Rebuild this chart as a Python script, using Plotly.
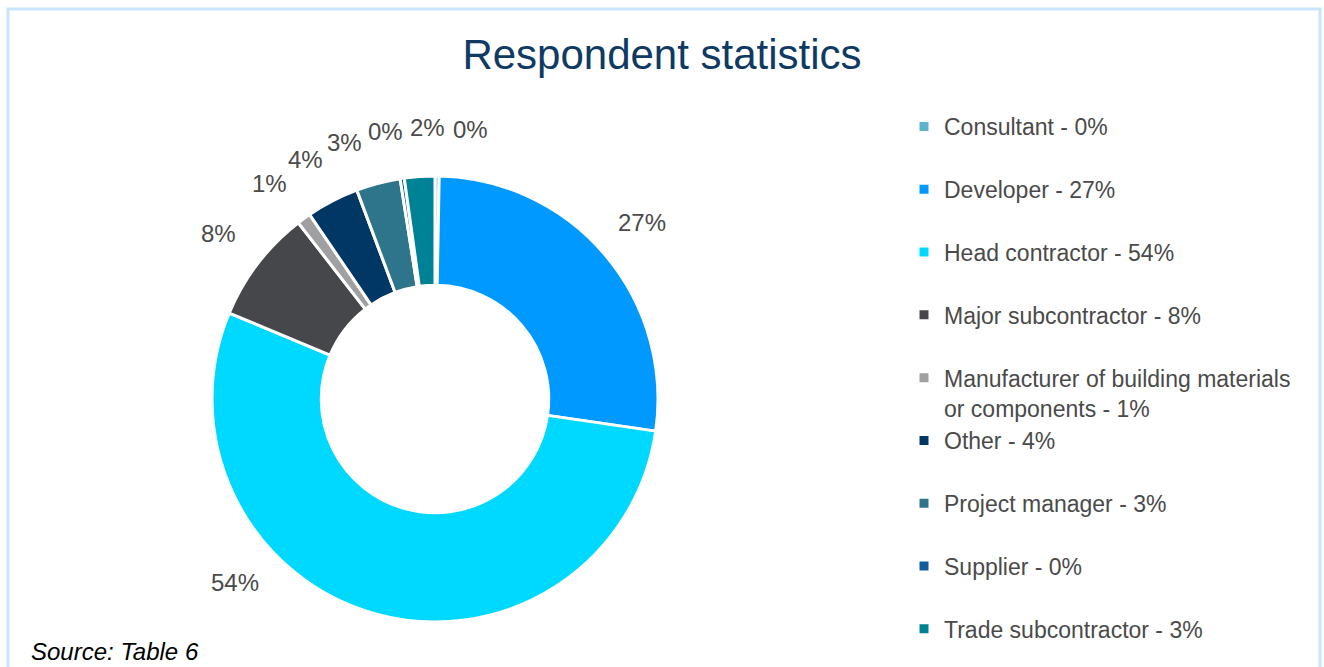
"""Respondent statistics donut chart."""

import math

import plotly.graph_objects as go

# --- data -------------------------------------------------------------
categories = [
    "Consultant",
    "Developer",
    "Head contractor",
    "Major subcontractor",
    "Manufacturer of building materials<br>or components",
    "Other",
    "Project manager",
    "Supplier",
    "Trade subcontractor",
]
shares = [0.3, 27.0, 54.0, 8.2, 1.0, 3.8, 3.2, 0.3, 2.2]
legend_pct = ["0%", "27%", "54%", "8%", "1%", "4%", "3%", "0%", "3%"]

slice_colors = [
    "#5FB3CC",
    "#0099FF",
    "#00D9FF",
    "#46474B",
    "#A0A0A2",
    "#003764",
    "#2E758C",
    "#115E9F",
    "#008296",
]

FONT = "Liberation Sans, Arial, sans-serif"
TEXT_GREY = "#4A4A4A"
W, H = 1324, 667
PIE_X = (212 / W, 658 / W)
PIE_Y = (45 / H, 491 / H)


def legend_label(name: str, pct: str, last: bool) -> str:
    label = f"{name} - {pct}"
    # single-line entries get a blank second line so spacing stays even
    if "<br>" not in label and not last:
        label += "<br>&nbsp;"
    return label


def slice_label_annotations() -> list[dict]:
    """Percent labels outside the ring, spread apart where slices are thin."""
    total = sum(shares)
    mids = []
    acc = 0.0
    for value in shares:
        mids.append((acc + value / 2) / total * 360.0)
        acc += value
    # unwrap so the top cluster (around 0 deg) is contiguous
    mids = [m if m > 90 else m + 360 for m in mids]
    order = sorted(range(len(mids)), key=lambda i: mids[i])
    angles = [mids[i] for i in order]
    min_gap = 9.0
    for _ in range(200):
        for k in range(len(angles) - 1):
            gap = angles[k + 1] - angles[k]
            if gap < min_gap:
                push = (min_gap - gap) / 2
                angles[k] -= push
                angles[k + 1] += push
    placed = dict(zip(order, angles))

    cx = (PIE_X[0] + PIE_X[1]) / 2 * W
    cy = (1 - (PIE_Y[0] + PIE_Y[1]) / 2) * H
    ring_r = (PIE_X[1] - PIE_X[0]) * W / 2
    radius = ring_r * 1.22
    max_drop = ring_r * 0.825  # keep labels above the bottom of the ring
    notes = []
    for i, value in enumerate(shares):
        theta = math.radians(placed[i])
        if -radius * math.cos(theta) > max_drop:
            # slide along the label circle toward the side it leans to
            base = math.acos(-max_drop / radius)
            theta = base if math.sin(theta) >= 0 else 2 * math.pi - base
        px_x = cx + radius * math.sin(theta)
        px_y = cy - radius * math.cos(theta)
        notes.append(
            {
                "text": f"{round(value / total * 100)}%",
                "xref": "paper",
                "yref": "paper",
                "x": px_x / W,
                "y": 1 - px_y / H,
                "xanchor": "center",
                "yanchor": "middle",
                "showarrow": False,
                "font": {"family": FONT, "size": 24, "color": TEXT_GREY},
            }
        )
    return notes


labels = [
    legend_label(c, p, i == len(categories) - 1)
    for i, (c, p) in enumerate(zip(categories, legend_pct))
]

fig = go.Figure(
    go.Pie(
        labels=labels,
        values=shares,
        hole=0.51,
        sort=False,
        direction="clockwise",
        rotation=0,
        marker={"colors": slice_colors, "line": {"color": "white", "width": 3}},
        textinfo="none",
        domain={"x": list(PIE_X), "y": list(PIE_Y)},
        hoverinfo="label+value",
    )
)

fig.update_layout(
    width=W,
    height=H,
    paper_bgcolor="white",
    plot_bgcolor="white",
    margin={"l": 0, "r": 0, "t": 0, "b": 0},
    font={"family": FONT, "color": TEXT_GREY},
    title={
        "text": "Respondent statistics",
        "x": 0.5,
        "xanchor": "center",
        "y": 1 - 54 / H,
        "yanchor": "middle",
        "font": {"family": FONT, "size": 42, "color": "#0E3A63"},
    },
    legend={
        "x": 904 / W,
        "xanchor": "left",
        "y": 1 - 105 / H,
        "yanchor": "top",
        "valign": "top",
        "font": {"family": FONT, "size": 23, "color": TEXT_GREY},
        "bgcolor": "rgba(0,0,0,0)",
    },
    shapes=[
        {
            "type": "rect",
            "xref": "paper",
            "yref": "paper",
            "x0": 8 / W,
            "x1": 1320 / W,
            "y0": -0.2,
            "y1": 1 - 9 / H,
            "line": {"color": "#C9E5FD", "width": 3},
        }
    ],
    annotations=slice_label_annotations()
    + [
        {
            "text": "<i>Source: Table 6</i>",
            "xref": "paper",
            "yref": "paper",
            "x": 29 / W,
            "xanchor": "left",
            "y": 1 - 651 / H,
            "yanchor": "middle",
            "showarrow": False,
            "font": {"family": FONT, "size": 24, "color": "black"},
        }
    ],
)

fig.write_html(
    "out.html",
    config={"displayModeBar": False},
    post_script="document.body.style.margin = '0';",
)
